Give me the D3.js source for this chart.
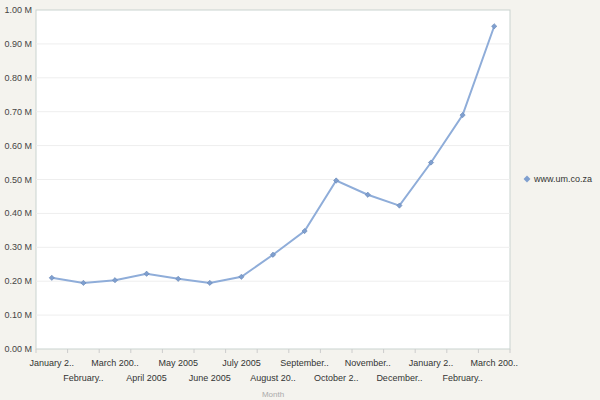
<!DOCTYPE html><html><head><script src="https://cdn.jsdelivr.net/npm/d3@7"></script>
<style>body{margin:0;background:#f4f3ee}</style></head><body><svg id="c" width="600" height="400"></svg>
<script>
const labels=["January 2..","February..","March 200..","April 2005","May 2005","June 2005","July 2005","August 20..","September..","October 2..","November..","December..","January 2..","February..","March 200.."];
const values=[0.21,0.195,0.203,0.222,0.207,0.195,0.213,0.278,0.348,0.497,0.455,0.423,0.55,0.69,0.952];
const yTicks=[0,0.1,0.2,0.3,0.4,0.5,0.6,0.7,0.8,0.9,1.0];
const series="www.um.co.za";
const svg=d3.select("#c");
const L=36,R=510,T=10,B=349;
svg.append("rect").attr("width",600).attr("height",400).attr("fill","#f4f3ee");
svg.append("rect").attr("x",L).attr("y",T).attr("width",R-L).attr("height",B-T).attr("fill","#fff").attr("stroke","#c9d3cf");
const x=d3.scalePoint().domain(d3.range(labels.length)).range([L,R]).padding(0.5);
const y=d3.scaleLinear().domain([0,1]).range([B,T]);
svg.append("g").selectAll("line").data(yTicks.slice(1,-1)).join("line").attr("x1",L).attr("x2",R).attr("y1",d=>y(d)).attr("y2",d=>y(d)).attr("stroke","#eeeeee");
svg.append("g").selectAll("text").data(yTicks).join("text").attr("x",L-4).attr("y",d=>y(d)+3).attr("text-anchor","end").attr("font-family","Liberation Sans, Arial").attr("font-size",9).attr("fill","#444").text(d=>d.toFixed(2)+" M");
const g=svg.append("g");
g.selectAll("line").data(d3.range(labels.length+1)).join("line").attr("x1",d=>L+d*(R-L)/labels.length).attr("x2",d=>L+d*(R-L)/labels.length).attr("y1",B).attr("y2",B+4).attr("stroke","#ccc");
g.selectAll("text").data(labels).join("text").attr("x",(d,i)=>x(i)).attr("y",(d,i)=>i%2?381:366).attr("text-anchor","middle").attr("font-family","Liberation Sans, Arial").attr("font-size",9).attr("fill","#333").text(d=>d);
svg.append("text").attr("x",(L+R)/2).attr("y",397).attr("text-anchor","middle").attr("font-family","Liberation Sans, Arial").attr("font-size",8).attr("fill","#aaa").text("Month");
svg.append("path").datum(values).attr("fill","none").attr("stroke","#8fadd9").attr("stroke-width",2).attr("d",d3.line().x((d,i)=>x(i)).y(d=>y(d)));
const sym=d3.symbol().type(d3.symbolSquare).size(14);
svg.append("g").selectAll("path").data(values).join("path").attr("transform",(d,i)=>`translate(${x(i)},${y(d)}) rotate(45)`).attr("d",sym).attr("fill","#7f9fcf").attr("stroke","#5f7fb0").attr("stroke-width",0.5);
svg.append("path").attr("transform","translate(527,179) rotate(45)").attr("d",d3.symbol().type(d3.symbolSquare).size(24)).attr("fill","#7f9fcf");
svg.append("text").attr("x",534).attr("y",182).attr("font-family","Liberation Sans, Arial").attr("font-size",9).attr("fill","#333").text(series);
</script></body></html>
